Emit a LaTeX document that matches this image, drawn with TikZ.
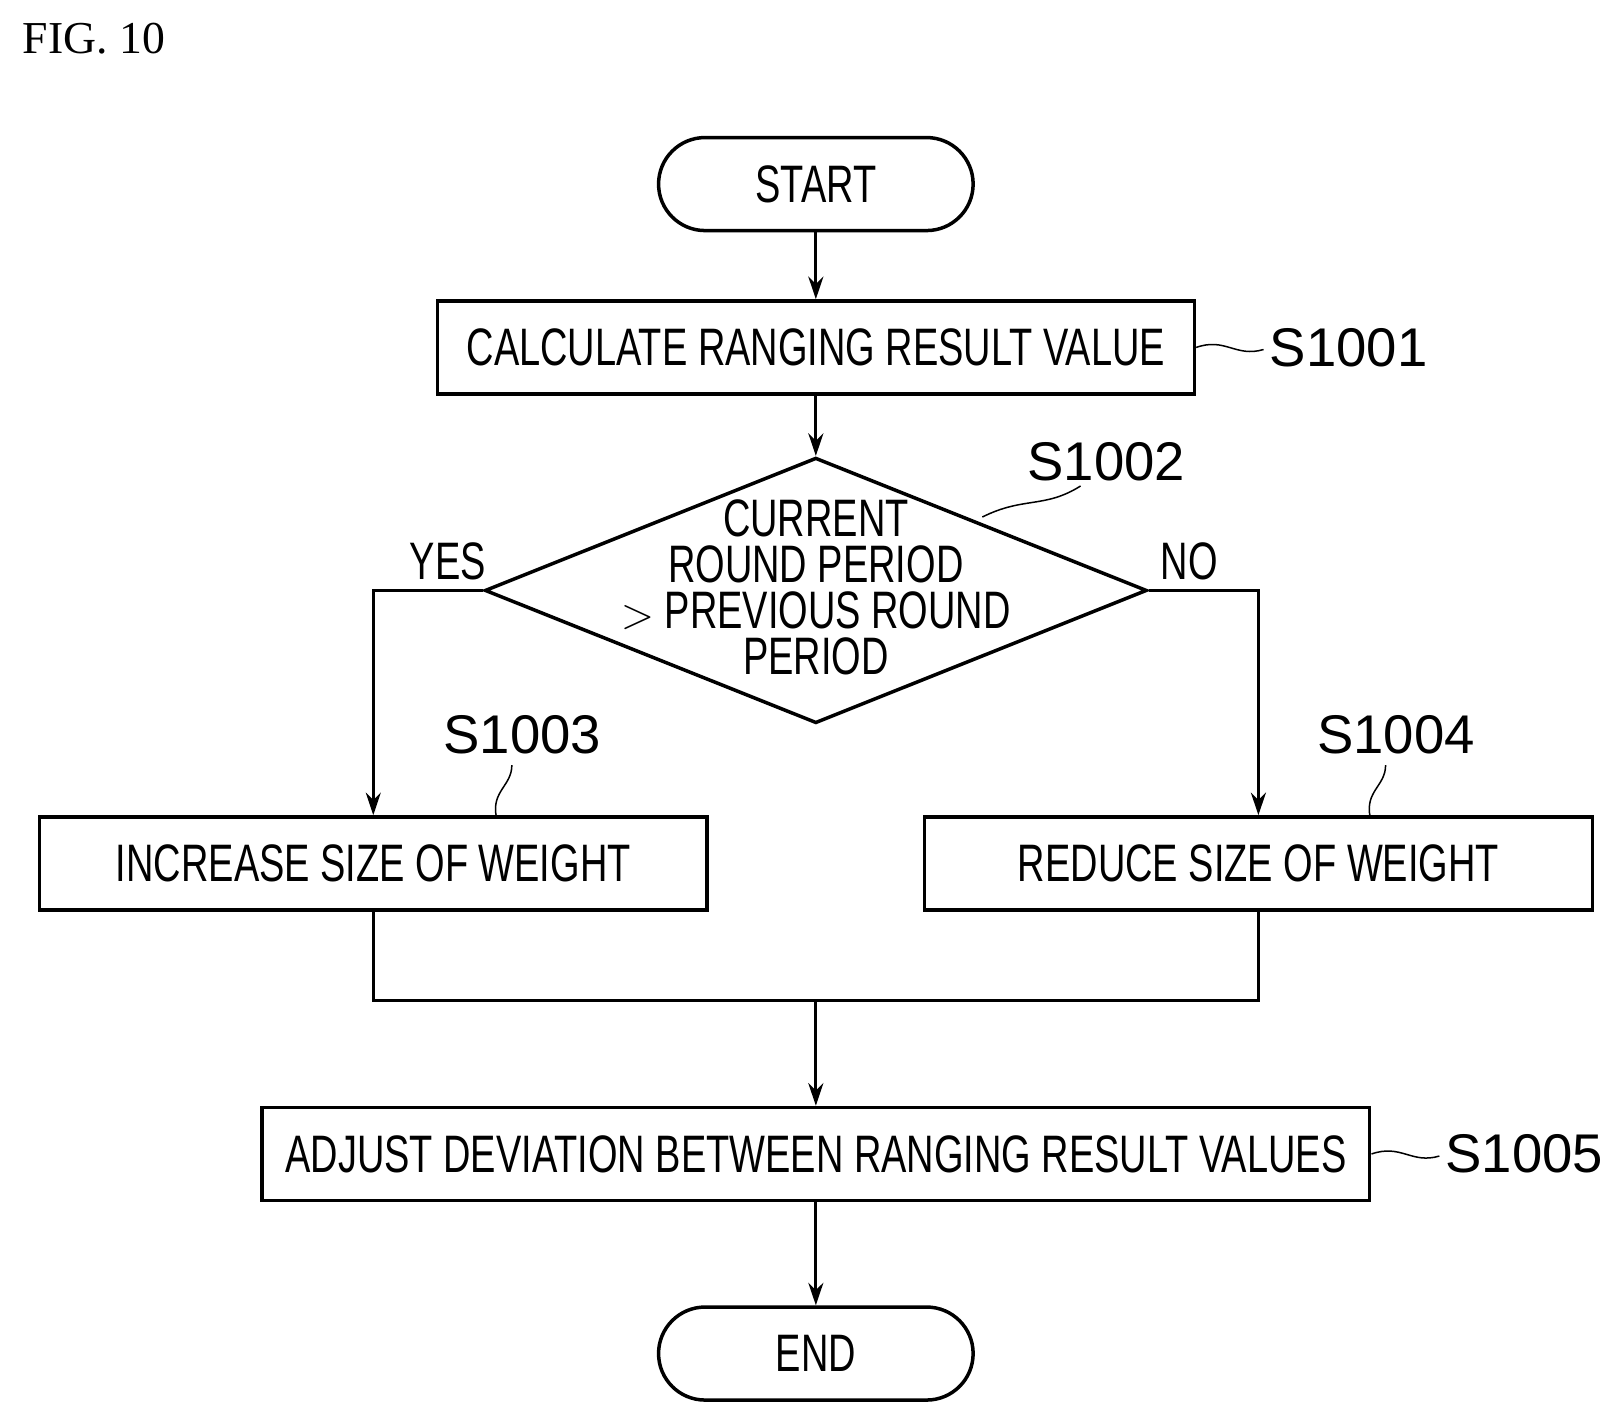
\documentclass[tikz,border=0pt]{standalone}
\usepackage{fontspec}
\setmainfont{Liberation Sans}
\newfontfamily\boxfont[FakeStretch=0.72]{Liberation Sans}
\newfontfamily\figfont{Liberation Serif}
\usetikzlibrary{shapes.geometric}
\usetikzlibrary{arrows.meta}

\tikzset{
  step/.style={draw,line width=0.07cm,minimum width=#1,minimum height=1.86cm,inner sep=0pt,font=\boxfont\fontsize{30}{32}\selectfont},
  term/.style={draw,line width=0.07cm,rounded corners=0.93cm,minimum width=6.29cm,minimum height=1.86cm,font=\boxfont\fontsize{30}{32}\selectfont},
  flow/.style={line width=0.06cm,-{Stealth[length=0.45cm,width=0.3cm]}},
  tag/.style={font=\fontsize{31}{33}\selectfont},
  wig/.style={line width=0.03cm}
}

\begin{document}
\begin{tikzpicture}[x=0.02068cm,y=-0.02068cm]
  \useasboundingbox (0,0) rectangle (1558,1369);
  {
  % Figure title
  \node[font=\figfont\fontsize{26}{28}\selectfont,anchor=west] (fig) at (16,37) {FIG. 10};

  % Drawing terminals and steps
  \node[term] (start) at (789,178) {START};
  \node[step=15.14cm] (calc) at (789,336) {CALCULATE RANGING RESULT VALUE};
  \node[draw,line width=0.07cm,diamond,minimum width=13.24cm,minimum height=5.31cm,inner sep=0pt] (cmp) at (789,571) {};
  \node[font=\boxfont\fontsize{30}{26}\selectfont,align=center] (cmptxt) at (789,568) {CURRENT\\ROUND PERIOD\\$>$ PREVIOUS ROUND\\PERIOD};
  \node[step=13.34cm] (inc) at (361,835) {INCREASE SIZE OF WEIGHT};
  \node[step=13.36cm] (red) at (1217,835) {REDUCE SIZE OF WEIGHT};
  \node[step=22.15cm] (adj) at (789,1116) {ADJUST DEVIATION BETWEEN RANGING RESULT VALUES};
  \node[term] (end) at (789,1309) {END};

  % Branch labels
  \node[font=\boxfont\fontsize{30}{32}\selectfont] (yes) at (433,543) {YES};
  \node[font=\boxfont\fontsize{30}{32}\selectfont] (no) at (1150,543) {NO};

  % Drawing connectors
  \coordinate (merge) at (789,968);
  \draw[flow] (start) -- (calc);
  \draw[flow] (calc) -- (cmp.north);
  \draw[flow] (cmp.west) -| (inc.north);
  \draw[flow] (cmp.east) -| (red.north);
  \draw[line width=0.06cm] (inc.south) |- (merge) -| (red.south);
  \draw[flow] (merge) -- (adj);
  \draw[flow] (adj) -- (end);

  % Step tags
  \node[tag,anchor=west] (t1) at (1222,336) {S1001};
  \draw[wig] (calc.east) .. controls (1185,326) and (1195,346) .. (1222,338);
  \node[tag] (t2) at (1070,447) {S1002};
  \draw[wig] (950,500) .. controls (990,480) and (1010,492) .. (1045,470);
  \node[tag] (t3) at (505,711) {S1003};
  \draw[wig] (480,790) .. controls (475,765) and (495,760) .. (495,740);
  \node[tag] (t4) at (1350,711) {S1004};
  \draw[wig] (1325,790) .. controls (1320,765) and (1340,760) .. (1340,740);
  \node[tag,anchor=west] (t5) at (1392,1116) {S1005};
  \draw[wig] (adj.east) .. controls (1355,1106) and (1365,1126) .. (1392,1118);
  }
\end{tikzpicture}
\end{document}
